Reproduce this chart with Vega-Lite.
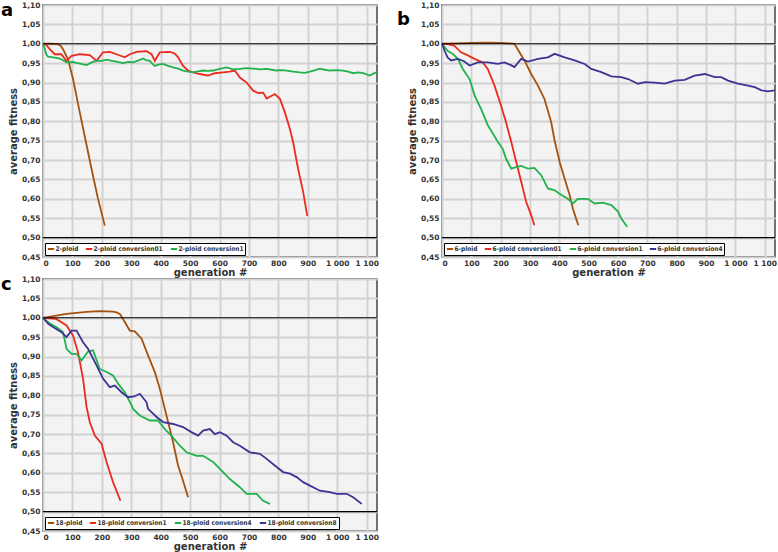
{
  "$schema": "https://vega.github.io/schema/vega-lite/v6.json",
  "padding": {"left": 0, "top": 0, "right": 0, "bottom": 0},
  "background": "white",
  "spacing": -5,
  "datasets": {
    "ga": [
      {"s":"2-ploid","g":0,"f":1.0},{"s":"2-ploid","g":25,"f":1.0},{"s":"2-ploid","g":50,"f":0.999},{"s":"2-ploid","g":60,"f":0.995},{"s":"2-ploid","g":68,"f":0.986},{"s":"2-ploid","g":85,"f":0.96},{"s":"2-ploid","g":102,"f":0.909},{"s":"2-ploid","g":125,"f":0.823},{"s":"2-ploid","g":145,"f":0.75},{"s":"2-ploid","g":165,"f":0.677},{"s":"2-ploid","g":187,"f":0.6},{"s":"2-ploid","g":210,"f":0.531},
      {"s":"2-ploid conversion01","g":0,"f":1.0},{"s":"2-ploid conversion01","g":10,"f":0.998},{"s":"2-ploid conversion01","g":23,"f":0.986},{"s":"2-ploid conversion01","g":40,"f":0.973},{"s":"2-ploid conversion01","g":62,"f":0.973},{"s":"2-ploid conversion01","g":80,"f":0.956},{"s":"2-ploid conversion01","g":97,"f":0.969},{"s":"2-ploid conversion01","g":125,"f":0.973},{"s":"2-ploid conversion01","g":159,"f":0.971},{"s":"2-ploid conversion01","g":182,"f":0.956},{"s":"2-ploid conversion01","g":204,"f":0.978},{"s":"2-ploid conversion01","g":227,"f":0.979},{"s":"2-ploid conversion01","g":250,"f":0.973},{"s":"2-ploid conversion01","g":278,"f":0.965},{"s":"2-ploid conversion01","g":295,"f":0.973},{"s":"2-ploid conversion01","g":318,"f":0.979},{"s":"2-ploid conversion01","g":352,"f":0.981},{"s":"2-ploid conversion01","g":369,"f":0.973},{"s":"2-ploid conversion01","g":380,"f":0.956},{"s":"2-ploid conversion01","g":397,"f":0.978},{"s":"2-ploid conversion01","g":431,"f":0.979},{"s":"2-ploid conversion01","g":448,"f":0.975},{"s":"2-ploid conversion01","g":459,"f":0.965},{"s":"2-ploid conversion01","g":476,"f":0.943},{"s":"2-ploid conversion01","g":493,"f":0.931},{"s":"2-ploid conversion01","g":510,"f":0.926},{"s":"2-ploid conversion01","g":533,"f":0.922},{"s":"2-ploid conversion01","g":561,"f":0.918},{"s":"2-ploid conversion01","g":584,"f":0.924},{"s":"2-ploid conversion01","g":612,"f":0.926},{"s":"2-ploid conversion01","g":635,"f":0.928},{"s":"2-ploid conversion01","g":652,"f":0.931},{"s":"2-ploid conversion01","g":669,"f":0.913},{"s":"2-ploid conversion01","g":692,"f":0.9},{"s":"2-ploid conversion01","g":714,"f":0.879},{"s":"2-ploid conversion01","g":731,"f":0.873},{"s":"2-ploid conversion01","g":748,"f":0.874},{"s":"2-ploid conversion01","g":760,"f":0.859},{"s":"2-ploid conversion01","g":777,"f":0.866},{"s":"2-ploid conversion01","g":788,"f":0.87},{"s":"2-ploid conversion01","g":805,"f":0.858},{"s":"2-ploid conversion01","g":822,"f":0.823},{"s":"2-ploid conversion01","g":839,"f":0.78},{"s":"2-ploid conversion01","g":850,"f":0.746},{"s":"2-ploid conversion01","g":867,"f":0.677},{"s":"2-ploid conversion01","g":884,"f":0.618},{"s":"2-ploid conversion01","g":898,"f":0.556},
      {"s":"2-ploid conversion1","g":0,"f":1.0},{"s":"2-ploid conversion1","g":5,"f":0.99},{"s":"2-ploid conversion1","g":11,"f":0.973},{"s":"2-ploid conversion1","g":17,"f":0.967},{"s":"2-ploid conversion1","g":35,"f":0.965},{"s":"2-ploid conversion1","g":57,"f":0.962},{"s":"2-ploid conversion1","g":80,"f":0.952},{"s":"2-ploid conversion1","g":100,"f":0.953},{"s":"2-ploid conversion1","g":114,"f":0.951},{"s":"2-ploid conversion1","g":130,"f":0.948},{"s":"2-ploid conversion1","g":148,"f":0.945},{"s":"2-ploid conversion1","g":165,"f":0.952},{"s":"2-ploid conversion1","g":182,"f":0.956},{"s":"2-ploid conversion1","g":200,"f":0.956},{"s":"2-ploid conversion1","g":216,"f":0.959},{"s":"2-ploid conversion1","g":235,"f":0.956},{"s":"2-ploid conversion1","g":250,"f":0.954},{"s":"2-ploid conversion1","g":272,"f":0.95},{"s":"2-ploid conversion1","g":290,"f":0.953},{"s":"2-ploid conversion1","g":306,"f":0.952},{"s":"2-ploid conversion1","g":325,"f":0.957},{"s":"2-ploid conversion1","g":340,"f":0.962},{"s":"2-ploid conversion1","g":350,"f":0.958},{"s":"2-ploid conversion1","g":363,"f":0.956},{"s":"2-ploid conversion1","g":372,"f":0.948},{"s":"2-ploid conversion1","g":380,"f":0.943},{"s":"2-ploid conversion1","g":395,"f":0.947},{"s":"2-ploid conversion1","g":408,"f":0.948},{"s":"2-ploid conversion1","g":425,"f":0.943},{"s":"2-ploid conversion1","g":442,"f":0.939},{"s":"2-ploid conversion1","g":460,"f":0.936},{"s":"2-ploid conversion1","g":476,"f":0.931},{"s":"2-ploid conversion1","g":493,"f":0.928},{"s":"2-ploid conversion1","g":510,"f":0.926},{"s":"2-ploid conversion1","g":527,"f":0.929},{"s":"2-ploid conversion1","g":544,"f":0.931},{"s":"2-ploid conversion1","g":560,"f":0.93},{"s":"2-ploid conversion1","g":578,"f":0.931},{"s":"2-ploid conversion1","g":600,"f":0.935},{"s":"2-ploid conversion1","g":624,"f":0.939},{"s":"2-ploid conversion1","g":645,"f":0.934},{"s":"2-ploid conversion1","g":669,"f":0.935},{"s":"2-ploid conversion1","g":690,"f":0.937},{"s":"2-ploid conversion1","g":714,"f":0.936},{"s":"2-ploid conversion1","g":737,"f":0.934},{"s":"2-ploid conversion1","g":760,"f":0.935},{"s":"2-ploid conversion1","g":777,"f":0.933},{"s":"2-ploid conversion1","g":794,"f":0.931},{"s":"2-ploid conversion1","g":810,"f":0.932},{"s":"2-ploid conversion1","g":828,"f":0.931},{"s":"2-ploid conversion1","g":850,"f":0.928},{"s":"2-ploid conversion1","g":873,"f":0.926},{"s":"2-ploid conversion1","g":890,"f":0.925},{"s":"2-ploid conversion1","g":907,"f":0.928},{"s":"2-ploid conversion1","g":925,"f":0.932},{"s":"2-ploid conversion1","g":941,"f":0.936},{"s":"2-ploid conversion1","g":958,"f":0.933},{"s":"2-ploid conversion1","g":975,"f":0.931},{"s":"2-ploid conversion1","g":1000,"f":0.932},{"s":"2-ploid conversion1","g":1020,"f":0.931},{"s":"2-ploid conversion1","g":1037,"f":0.928},{"s":"2-ploid conversion1","g":1054,"f":0.924},{"s":"2-ploid conversion1","g":1070,"f":0.926},{"s":"2-ploid conversion1","g":1088,"f":0.924},{"s":"2-ploid conversion1","g":1100,"f":0.921},{"s":"2-ploid conversion1","g":1111,"f":0.918},{"s":"2-ploid conversion1","g":1122,"f":0.923},{"s":"2-ploid conversion1","g":1134,"f":0.926}
    ],
    "gb": [
      {"s":"6-ploid","g":0,"f":1.0},{"s":"6-ploid","g":50,"f":1.001},{"s":"6-ploid","g":100,"f":1.002},{"s":"6-ploid","g":150,"f":1.003},{"s":"6-ploid","g":200,"f":1.002},{"s":"6-ploid","g":230,"f":1.001},{"s":"6-ploid","g":247,"f":1.0},{"s":"6-ploid","g":264,"f":0.978},{"s":"6-ploid","g":281,"f":0.957},{"s":"6-ploid","g":304,"f":0.922},{"s":"6-ploid","g":327,"f":0.892},{"s":"6-ploid","g":349,"f":0.858},{"s":"6-ploid","g":372,"f":0.798},{"s":"6-ploid","g":384,"f":0.75},{"s":"6-ploid","g":401,"f":0.695},{"s":"6-ploid","g":418,"f":0.652},{"s":"6-ploid","g":435,"f":0.61},{"s":"6-ploid","g":446,"f":0.575},{"s":"6-ploid","g":457,"f":0.549},{"s":"6-ploid","g":465,"f":0.532},
      {"s":"6-ploid conversion01","g":0,"f":1.0},{"s":"6-ploid conversion01","g":20,"f":0.999},{"s":"6-ploid conversion01","g":42,"f":0.995},{"s":"6-ploid conversion01","g":65,"f":0.978},{"s":"6-ploid conversion01","g":88,"f":0.97},{"s":"6-ploid conversion01","g":111,"f":0.961},{"s":"6-ploid conversion01","g":139,"f":0.952},{"s":"6-ploid conversion01","g":156,"f":0.935},{"s":"6-ploid conversion01","g":179,"f":0.892},{"s":"6-ploid conversion01","g":201,"f":0.841},{"s":"6-ploid conversion01","g":218,"f":0.798},{"s":"6-ploid conversion01","g":236,"f":0.747},{"s":"6-ploid conversion01","g":253,"f":0.695},{"s":"6-ploid conversion01","g":270,"f":0.644},{"s":"6-ploid conversion01","g":287,"f":0.592},{"s":"6-ploid conversion01","g":304,"f":0.558},{"s":"6-ploid conversion01","g":315,"f":0.532},
      {"s":"6-ploid conversion1","g":0,"f":1.0},{"s":"6-ploid conversion1","g":19,"f":0.982},{"s":"6-ploid conversion1","g":37,"f":0.974},{"s":"6-ploid conversion1","g":54,"f":0.961},{"s":"6-ploid conversion1","g":71,"f":0.935},{"s":"6-ploid conversion1","g":94,"f":0.909},{"s":"6-ploid conversion1","g":111,"f":0.867},{"s":"6-ploid conversion1","g":133,"f":0.832},{"s":"6-ploid conversion1","g":156,"f":0.79},{"s":"6-ploid conversion1","g":184,"f":0.755},{"s":"6-ploid conversion1","g":190,"f":0.747},{"s":"6-ploid conversion1","g":207,"f":0.729},{"s":"6-ploid conversion1","g":218,"f":0.704},{"s":"6-ploid conversion1","g":236,"f":0.678},{"s":"6-ploid conversion1","g":253,"f":0.682},{"s":"6-ploid conversion1","g":270,"f":0.685},{"s":"6-ploid conversion1","g":293,"f":0.678},{"s":"6-ploid conversion1","g":315,"f":0.68},{"s":"6-ploid conversion1","g":338,"f":0.661},{"s":"6-ploid conversion1","g":361,"f":0.627},{"s":"6-ploid conversion1","g":384,"f":0.622},{"s":"6-ploid conversion1","g":407,"f":0.61},{"s":"6-ploid conversion1","g":429,"f":0.6},{"s":"6-ploid conversion1","g":446,"f":0.588},{"s":"6-ploid conversion1","g":463,"f":0.6},{"s":"6-ploid conversion1","g":480,"f":0.6},{"s":"6-ploid conversion1","g":497,"f":0.6},{"s":"6-ploid conversion1","g":520,"f":0.588},{"s":"6-ploid conversion1","g":548,"f":0.59},{"s":"6-ploid conversion1","g":577,"f":0.584},{"s":"6-ploid conversion1","g":600,"f":0.567},{"s":"6-ploid conversion1","g":611,"f":0.549},{"s":"6-ploid conversion1","g":631,"f":0.528},
      {"s":"6-ploid conversion4","g":0,"f":1.0},{"s":"6-ploid conversion4","g":10,"f":0.98},{"s":"6-ploid conversion4","g":19,"f":0.965},{"s":"6-ploid conversion4","g":31,"f":0.957},{"s":"6-ploid conversion4","g":54,"f":0.961},{"s":"6-ploid conversion4","g":75,"f":0.955},{"s":"6-ploid conversion4","g":94,"f":0.944},{"s":"6-ploid conversion4","g":122,"f":0.952},{"s":"6-ploid conversion4","g":156,"f":0.952},{"s":"6-ploid conversion4","g":190,"f":0.948},{"s":"6-ploid conversion4","g":213,"f":0.952},{"s":"6-ploid conversion4","g":235,"f":0.945},{"s":"6-ploid conversion4","g":247,"f":0.94},{"s":"6-ploid conversion4","g":270,"f":0.961},{"s":"6-ploid conversion4","g":293,"f":0.954},{"s":"6-ploid conversion4","g":327,"f":0.961},{"s":"6-ploid conversion4","g":361,"f":0.965},{"s":"6-ploid conversion4","g":384,"f":0.974},{"s":"6-ploid conversion4","g":418,"f":0.965},{"s":"6-ploid conversion4","g":452,"f":0.957},{"s":"6-ploid conversion4","g":486,"f":0.948},{"s":"6-ploid conversion4","g":509,"f":0.935},{"s":"6-ploid conversion4","g":543,"f":0.927},{"s":"6-ploid conversion4","g":577,"f":0.916},{"s":"6-ploid conversion4","g":611,"f":0.914},{"s":"6-ploid conversion4","g":634,"f":0.909},{"s":"6-ploid conversion4","g":668,"f":0.897},{"s":"6-ploid conversion4","g":691,"f":0.901},{"s":"6-ploid conversion4","g":725,"f":0.9},{"s":"6-ploid conversion4","g":759,"f":0.897},{"s":"6-ploid conversion4","g":793,"f":0.905},{"s":"6-ploid conversion4","g":827,"f":0.907},{"s":"6-ploid conversion4","g":861,"f":0.918},{"s":"6-ploid conversion4","g":896,"f":0.922},{"s":"6-ploid conversion4","g":930,"f":0.914},{"s":"6-ploid conversion4","g":952,"f":0.914},{"s":"6-ploid conversion4","g":975,"f":0.905},{"s":"6-ploid conversion4","g":1009,"f":0.897},{"s":"6-ploid conversion4","g":1043,"f":0.892},{"s":"6-ploid conversion4","g":1066,"f":0.888},{"s":"6-ploid conversion4","g":1089,"f":0.88},{"s":"6-ploid conversion4","g":1111,"f":0.877},{"s":"6-ploid conversion4","g":1134,"f":0.88}
    ],
    "gc": [
      {"s":"18-ploid","g":0,"f":1.0},{"s":"18-ploid","g":40,"f":1.005},{"s":"18-ploid","g":80,"f":1.01},{"s":"18-ploid","g":148,"f":1.015},{"s":"18-ploid","g":193,"f":1.017},{"s":"18-ploid","g":238,"f":1.016},{"s":"18-ploid","g":250,"f":1.014},{"s":"18-ploid","g":261,"f":1.01},{"s":"18-ploid","g":278,"f":0.989},{"s":"18-ploid","g":295,"f":0.967},{"s":"18-ploid","g":312,"f":0.965},{"s":"18-ploid","g":335,"f":0.946},{"s":"18-ploid","g":357,"f":0.903},{"s":"18-ploid","g":380,"f":0.86},{"s":"18-ploid","g":397,"f":0.817},{"s":"18-ploid","g":414,"f":0.765},{"s":"18-ploid","g":431,"f":0.713},{"s":"18-ploid","g":442,"f":0.679},{"s":"18-ploid","g":459,"f":0.619},{"s":"18-ploid","g":474,"f":0.584},{"s":"18-ploid","g":493,"f":0.537},
      {"s":"18-ploid conversion1","g":0,"f":1.0},{"s":"18-ploid conversion1","g":45,"f":0.997},{"s":"18-ploid conversion1","g":80,"f":0.98},{"s":"18-ploid conversion1","g":102,"f":0.954},{"s":"18-ploid conversion1","g":119,"f":0.911},{"s":"18-ploid conversion1","g":136,"f":0.843},{"s":"18-ploid conversion1","g":148,"f":0.77},{"s":"18-ploid conversion1","g":159,"f":0.731},{"s":"18-ploid conversion1","g":176,"f":0.696},{"s":"18-ploid conversion1","g":199,"f":0.675},{"s":"18-ploid conversion1","g":216,"f":0.628},{"s":"18-ploid conversion1","g":238,"f":0.576},{"s":"18-ploid conversion1","g":263,"f":0.528},
      {"s":"18-ploid conversion4","g":0,"f":1.0},{"s":"18-ploid conversion4","g":23,"f":0.985},{"s":"18-ploid conversion4","g":45,"f":0.976},{"s":"18-ploid conversion4","g":68,"f":0.963},{"s":"18-ploid conversion4","g":80,"f":0.92},{"s":"18-ploid conversion4","g":97,"f":0.907},{"s":"18-ploid conversion4","g":114,"f":0.907},{"s":"18-ploid conversion4","g":131,"f":0.89},{"s":"18-ploid conversion4","g":153,"f":0.913},{"s":"18-ploid conversion4","g":170,"f":0.916},{"s":"18-ploid conversion4","g":193,"f":0.868},{"s":"18-ploid conversion4","g":216,"f":0.86},{"s":"18-ploid conversion4","g":238,"f":0.851},{"s":"18-ploid conversion4","g":255,"f":0.83},{"s":"18-ploid conversion4","g":278,"f":0.808},{"s":"18-ploid conversion4","g":301,"f":0.774},{"s":"18-ploid conversion4","g":306,"f":0.765},{"s":"18-ploid conversion4","g":329,"f":0.748},{"s":"18-ploid conversion4","g":363,"f":0.735},{"s":"18-ploid conversion4","g":391,"f":0.735},{"s":"18-ploid conversion4","g":414,"f":0.713},{"s":"18-ploid conversion4","g":436,"f":0.696},{"s":"18-ploid conversion4","g":465,"f":0.67},{"s":"18-ploid conversion4","g":488,"f":0.653},{"s":"18-ploid conversion4","g":522,"f":0.644},{"s":"18-ploid conversion4","g":544,"f":0.644},{"s":"18-ploid conversion4","g":578,"f":0.628},{"s":"18-ploid conversion4","g":601,"f":0.61},{"s":"18-ploid conversion4","g":635,"f":0.584},{"s":"18-ploid conversion4","g":669,"f":0.563},{"s":"18-ploid conversion4","g":692,"f":0.546},{"s":"18-ploid conversion4","g":726,"f":0.546},{"s":"18-ploid conversion4","g":748,"f":0.528},{"s":"18-ploid conversion4","g":771,"f":0.52},
      {"s":"18-ploid conversion8","g":0,"f":1.0},{"s":"18-ploid conversion8","g":17,"f":0.985},{"s":"18-ploid conversion8","g":34,"f":0.976},{"s":"18-ploid conversion8","g":63,"f":0.963},{"s":"18-ploid conversion8","g":80,"f":0.95},{"s":"18-ploid conversion8","g":97,"f":0.967},{"s":"18-ploid conversion8","g":114,"f":0.967},{"s":"18-ploid conversion8","g":136,"f":0.937},{"s":"18-ploid conversion8","g":153,"f":0.92},{"s":"18-ploid conversion8","g":182,"f":0.877},{"s":"18-ploid conversion8","g":204,"f":0.843},{"s":"18-ploid conversion8","g":227,"f":0.821},{"s":"18-ploid conversion8","g":244,"f":0.825},{"s":"18-ploid conversion8","g":267,"f":0.808},{"s":"18-ploid conversion8","g":289,"f":0.795},{"s":"18-ploid conversion8","g":310,"f":0.797},{"s":"18-ploid conversion8","g":329,"f":0.804},{"s":"18-ploid conversion8","g":352,"f":0.782},{"s":"18-ploid conversion8","g":357,"f":0.765},{"s":"18-ploid conversion8","g":386,"f":0.744},{"s":"18-ploid conversion8","g":408,"f":0.731},{"s":"18-ploid conversion8","g":442,"f":0.726},{"s":"18-ploid conversion8","g":476,"f":0.718},{"s":"18-ploid conversion8","g":504,"f":0.705},{"s":"18-ploid conversion8","g":527,"f":0.696},{"s":"18-ploid conversion8","g":544,"f":0.709},{"s":"18-ploid conversion8","g":567,"f":0.713},{"s":"18-ploid conversion8","g":584,"f":0.7},{"s":"18-ploid conversion8","g":601,"f":0.705},{"s":"18-ploid conversion8","g":624,"f":0.696},{"s":"18-ploid conversion8","g":646,"f":0.679},{"s":"18-ploid conversion8","g":669,"f":0.67},{"s":"18-ploid conversion8","g":703,"f":0.653},{"s":"18-ploid conversion8","g":737,"f":0.649},{"s":"18-ploid conversion8","g":760,"f":0.636},{"s":"18-ploid conversion8","g":794,"f":0.615},{"s":"18-ploid conversion8","g":816,"f":0.602},{"s":"18-ploid conversion8","g":839,"f":0.598},{"s":"18-ploid conversion8","g":862,"f":0.589},{"s":"18-ploid conversion8","g":884,"f":0.576},{"s":"18-ploid conversion8","g":907,"f":0.567},{"s":"18-ploid conversion8","g":941,"f":0.554},{"s":"18-ploid conversion8","g":975,"f":0.55},{"s":"18-ploid conversion8","g":998,"f":0.546},{"s":"18-ploid conversion8","g":1032,"f":0.546},{"s":"18-ploid conversion8","g":1054,"f":0.537},{"s":"18-ploid conversion8","g":1083,"f":0.52}
    ],
    "refs": [{"f": 1.0}, {"f": 0.5}]
  },
  "resolve": {"scale": {"color": "independent"}, "legend": {"color": "independent"}},
  "vconcat": [
    {
      "spacing": 14,
      "resolve": {"scale": {"color": "independent"}, "legend": {"color": "independent"}},
      "hconcat": [
        {
          "width": 334, "height": 252,
          "title": {"text": "a", "orient": "bottom", "anchor": "start", "frame": "group", "baseline": "alphabetic", "dx": -42, "dy": -266},
          "layer": [
            {"data": {"name": "ga"}, "mark": {"type": "line", "strokeWidth": 1.8},
             "encoding": {
               "x": {"field": "g", "type": "quantitative", "scale": {"domain": [0, 1135], "nice": false}, "axis": {"values": [0,100,200,300,400,500,600,700,800,900,1000,1100], "format": ",d", "title": "generation #", "labelOverlap": false}},
               "y": {"field": "f", "type": "quantitative", "scale": {"domain": [0.45, 1.1], "nice": false, "zero": false}, "axis": {"values": [0.45,0.5,0.55,0.6,0.65,0.7,0.75,0.8,0.85,0.9,0.95,1.0,1.05,1.1], "format": ".2f", "title": "average fitness", "labelOverlap": false}},
               "color": {"field": "s", "type": "nominal", "scale": {"domain": ["2-ploid","2-ploid conversion01","2-ploid conversion1"], "range": ["#a5520f","#ec2a1e","#22b14c"]}, "legend": {"title": null, "orient": "bottom-left", "direction": "horizontal", "offset": 2}}
             }},
            {"data": {"name": "refs"}, "mark": {"type": "rule", "color": "black", "strokeWidth": 1.2}, "encoding": {"y": {"field": "f", "type": "quantitative", "axis": {"values": [0.45,0.5,0.55,0.6,0.65,0.7,0.75,0.8,0.85,0.9,0.95,1.0,1.05,1.1], "format": ".2f", "title": "average fitness", "labelOverlap": false}}}}
          ]
        },
        {
          "width": 333, "height": 252,
          "title": {"text": "b", "orient": "bottom", "anchor": "start", "frame": "group", "baseline": "alphabetic", "dx": -45, "dy": -257},
          "layer": [
            {"data": {"name": "gb"}, "mark": {"type": "line", "strokeWidth": 1.8},
             "encoding": {
               "x": {"field": "g", "type": "quantitative", "scale": {"domain": [0, 1135], "nice": false}, "axis": {"values": [0,100,200,300,400,500,600,700,800,900,1000,1100], "format": ",d", "title": "generation #", "labelOverlap": false}},
               "y": {"field": "f", "type": "quantitative", "scale": {"domain": [0.45, 1.1], "nice": false, "zero": false}, "axis": {"values": [0.45,0.5,0.55,0.6,0.65,0.7,0.75,0.8,0.85,0.9,0.95,1.0,1.05,1.1], "format": ".2f", "title": "average fitness", "labelOverlap": false}},
               "color": {"field": "s", "type": "nominal", "scale": {"domain": ["6-ploid","6-ploid conversion01","6-ploid conversion1","6-ploid conversion4"], "range": ["#a5520f","#ec2a1e","#22b14c","#3b3494"]}, "legend": {"title": null, "orient": "bottom-left", "direction": "horizontal", "offset": 2}}
             }},
            {"data": {"name": "refs"}, "mark": {"type": "rule", "color": "black", "strokeWidth": 1.2}, "encoding": {"y": {"field": "f", "type": "quantitative", "axis": {"values": [0.45,0.5,0.55,0.6,0.65,0.7,0.75,0.8,0.85,0.9,0.95,1.0,1.05,1.1], "format": ".2f", "title": "average fitness", "labelOverlap": false}}}}
          ]
        }
      ]
    },
    {
      "width": 334, "height": 252,
      "title": {"text": "c", "orient": "bottom", "anchor": "start", "frame": "group", "baseline": "alphabetic", "dx": -42, "dy": -266},
      "layer": [
        {"data": {"name": "gc"}, "mark": {"type": "line", "strokeWidth": 1.8},
         "encoding": {
           "x": {"field": "g", "type": "quantitative", "scale": {"domain": [0, 1135], "nice": false}, "axis": {"values": [0,100,200,300,400,500,600,700,800,900,1000,1100], "format": ",d", "title": "generation #", "labelOverlap": false}},
           "y": {"field": "f", "type": "quantitative", "scale": {"domain": [0.45, 1.1], "nice": false, "zero": false}, "axis": {"values": [0.45,0.5,0.55,0.6,0.65,0.7,0.75,0.8,0.85,0.9,0.95,1.0,1.05,1.1], "format": ".2f", "title": "average fitness", "labelOverlap": false}},
           "color": {"field": "s", "type": "nominal", "scale": {"domain": ["18-ploid","18-ploid conversion1","18-ploid conversion4","18-ploid conversion8"], "range": ["#a5520f","#ec2a1e","#22b14c","#3b3494"]}, "legend": {"title": null, "orient": "bottom-left", "direction": "horizontal", "offset": 2}}
         }},
        {"data": {"name": "refs"}, "mark": {"type": "rule", "color": "black", "strokeWidth": 1.2}, "encoding": {"y": {"field": "f", "type": "quantitative", "axis": {"values": [0.45,0.5,0.55,0.6,0.65,0.7,0.75,0.8,0.85,0.9,0.95,1.0,1.05,1.1], "format": ".2f", "title": "average fitness", "labelOverlap": false}}}}
      ]
    }
  ],
  "config": {
    "locale": {"number": {"decimal": ",", "thousands": " ", "grouping": [3], "currency": ["", ""]}},
    "font": "DejaVu Sans",
    "view": {"fill": "#f3f3f3", "stroke": "#444444", "strokeWidth": 1.5},
    "title": {"font": "DejaVu Sans", "fontSize": 18, "fontWeight": "bold", "color": "black", "offset": 0},
    "axis": {
      "labelFont": "DejaVu Sans", "labelFontSize": 7.5, "labelFontWeight": "bold", "labelColor": "#333333", "labelOverlap": false,
      "titleFont": "DejaVu Sans", "titleFontSize": 10, "titleFontWeight": "bold", "titleColor": "#333333",
      "domain": false, "ticks": false, "gridColor": "#d2d2d2", "gridWidth": 2, "gridOpacity": 1,
      "labelPadding": 3, "titlePadding": 3
    },
    "axisX": {"labelPadding": 2, "titlePadding": 1, "titleFontSize": 10},
    "legend": {
      "fillColor": "white", "strokeColor": "black", "padding": 1.5, "cornerRadius": 0,
      "symbolType": "stroke", "symbolSize": 40, "symbolStrokeWidth": 2, "gridAlign": "none",
      "labelFont": "'Liberation Sans Narrow', 'DejaVu Sans Condensed', 'Liberation Sans'", "labelFontSize": 6.5, "labelFontWeight": "bold", "labelColor": "#333333",
      "columnPadding": 3, "labelOffset": 0, "symbolOffset": 0, "rowPadding": 0
    }
  }
}
